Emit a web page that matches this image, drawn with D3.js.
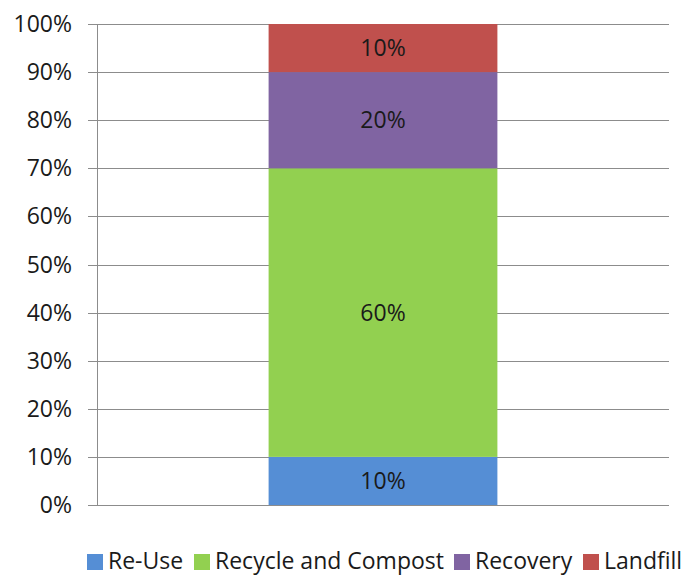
<!DOCTYPE html>
<html><head><meta charset="utf-8">
<script src="https://cdn.jsdelivr.net/npm/d3@7"></script>
<style>body{margin:0;background:#fff}svg{display:block}text{font-family:"Open Sans",sans-serif}</style>
</head><body><div id="c"></div>
<script>
const categories = ["Waste"];
const seriesNames = ["Re-Use", "Recycle and Compost", "Recovery", "Landfill"];
const seriesValues = [[0.10], [0.60], [0.20], [0.10]];
const seriesColors = ["#558ED5", "#92D050", "#8064A2", "#C0504D"];
const yTicks = [0,0.1,0.2,0.3,0.4,0.5,0.6,0.7,0.8,0.9,1.0];

const W = 686, H = 576;
const m = {left: 97, right: 17, top: 24, bottom: 71};
const svg = d3.select("#c").append("svg").attr("width", W).attr("height", H);
const x = d3.scaleBand().domain(categories).range([m.left, W - m.right]).paddingInner(0.6).paddingOuter(0.3);
const y = d3.scaleLinear().domain([0,1]).range([H - m.bottom, m.top]);

// gridlines
svg.append("g").selectAll("line").data(yTicks).join("line")
  .attr("x1", m.left - 9).attr("x2", W - m.right)
  .attr("y1", d => Math.round(y(d)) + 0.5).attr("y2", d => Math.round(y(d)) + 0.5)
  .attr("stroke", "#8c8c8c").attr("stroke-width", 1);
svg.append("line").attr("x1", m.left + 0.5).attr("x2", m.left + 0.5)
  .attr("y1", y(1)).attr("y2", y(0)).attr("stroke", "#8c8c8c");

// y labels
svg.append("g").selectAll("text").data(yTicks).join("text")
  .attr("x", 72).attr("y", d => y(d)).attr("dy", "0.35em")
  .attr("text-anchor", "end").attr("font-size", 23).attr("fill", "#1a1a1a")
  .text(d => d3.format(".0%")(d));

// stacks
const rows = categories.map((c, i) => {
  const o = {cat: c};
  seriesNames.forEach((s, j) => o[s] = seriesValues[j][i]);
  return o;
});
const stacked = d3.stack().keys(seriesNames)(rows);
stacked.forEach((layer, j) => {
  const g = svg.append("g");
  g.selectAll("rect").data(layer).join("rect")
    .attr("x", d => x(d.data.cat)).attr("width", x.bandwidth())
    .attr("y", d => y(d[1])).attr("height", d => y(d[0]) - y(d[1]))
    .attr("fill", seriesColors[j]);
  g.selectAll("text").data(layer).join("text")
    .attr("x", d => x(d.data.cat) + x.bandwidth()/2)
    .attr("y", d => (y(d[0]) + y(d[1]))/2).attr("dy", "0.35em")
    .attr("text-anchor", "middle").attr("font-size", 23).attr("fill", "#1a1a1a")
    .text(d => d3.format(".0%")(d[1] - d[0]));
});

// legend
const legX = [87, 194, 454, 583];
const lg = svg.append("g");
seriesNames.forEach((s, j) => {
  lg.append("rect").attr("x", legX[j]).attr("y", 554).attr("width", 16).attr("height", 16).attr("fill", seriesColors[j]);
  lg.append("text").attr("x", legX[j] + 21).attr("y", 569)
    .attr("font-size", 23).attr("fill", "#1a1a1a").text(s);
});
</script></body></html>
